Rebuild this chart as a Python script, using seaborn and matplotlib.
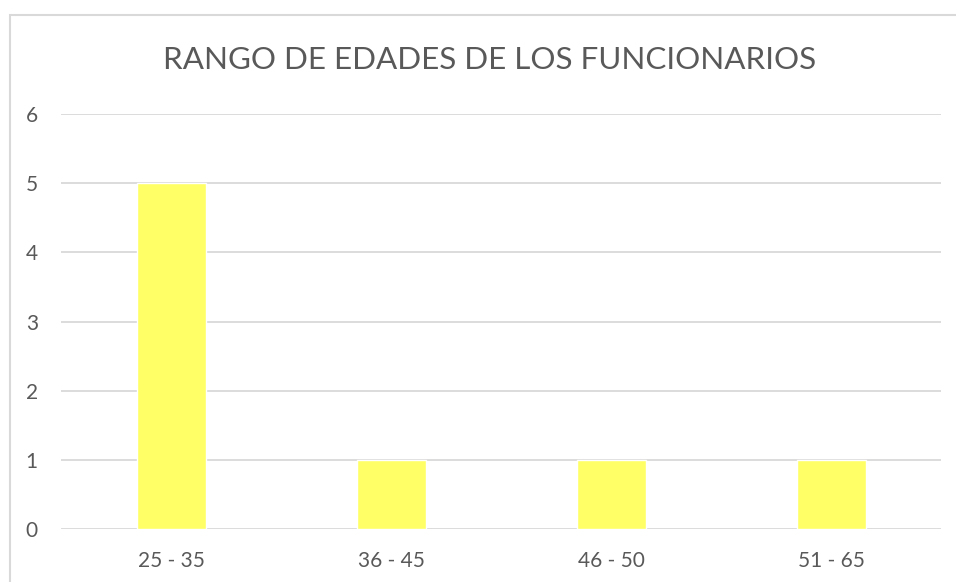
import matplotlib
matplotlib.use("Agg")
import matplotlib.pyplot as plt
from matplotlib.patches import Rectangle
import seaborn as sns
import pandas as pd

categories = ["25 - 35", "36 - 45", "46 - 50", "51 - 65"]
values = [5, 1, 1, 1]
y_ticks = [0, 1, 2, 3, 4, 5, 6]
title = "RANGO DE EDADES DE LOS FUNCIONARIOS"

sns.set_theme(style="white")
plt.rcParams["font.family"] = ["Lato", "DejaVu Sans"]

W, H = 956, 582
fig = plt.figure(figsize=(W / 100, H / 100), dpi=100)
fig.patch.set_facecolor("white")

# chart frame (runs off the right and bottom edges)
fig.patches.append(Rectangle((10 / W, -0.05), 1.2, (H - 15) / H + 0.05,
                             transform=fig.transFigure, fill=False,
                             edgecolor="#D9D9D9", linewidth=1.5))

ax = fig.add_axes([61.5 / W, (H - 529) / H, 880 / W, (529 - 114) / H])
df = pd.DataFrame({"rango": categories, "n": values})
sns.barplot(data=df, x="rango", y="n", color="#FFFF66", saturation=1,
            width=0.314, ax=ax, zorder=3)

ax.set_ylim(0, 6)
ax.set_xlim(-0.5, len(categories) - 0.5)
ax.set_yticks(y_ticks)
ax.yaxis.grid(True, color="#D9D9D9", linewidth=1.3, zorder=0)
ax.set_axisbelow(True)
for s in ax.spines.values():
    s.set_visible(False)
ax.set_xlabel("")
ax.set_ylabel("")
ax.tick_params(axis="both", length=0, labelsize=15, colors="#595959")
ax.tick_params(axis="y", pad=17)
ax.tick_params(axis="x", pad=16)

fig.text(489.5 / W, (H - 69) / H, title, ha="center", va="baseline",
         fontsize=22.6, color="#595959")

fig.savefig("out.png", dpi=100)
